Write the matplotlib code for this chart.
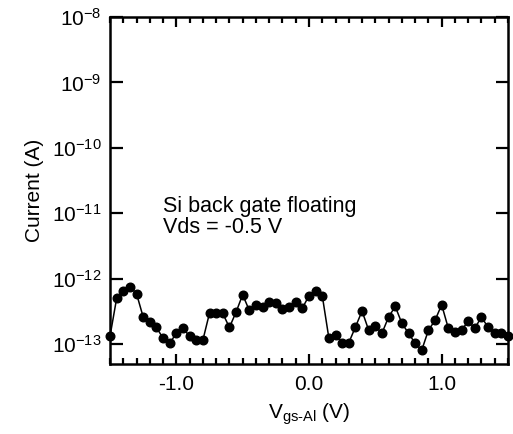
import numpy as np
import matplotlib
matplotlib.use("Agg")
import matplotlib.pyplot as plt
from matplotlib.ticker import MultipleLocator, FixedLocator, NullLocator

plt.rcParams['font.family'] = ['Liberation Sans', 'DejaVu Sans']
plt.rcParams['mathtext.fontset'] = 'custom'
plt.rcParams['mathtext.rm'] = 'Liberation Sans'
plt.rcParams['mathtext.it'] = 'Liberation Sans:italic'
plt.rcParams['mathtext.bf'] = 'Liberation Sans:bold'

vgs = [-1.50, -1.45, -1.40, -1.35, -1.30, -1.25, -1.20, -1.15, -1.10, -1.05,
       -1.00, -0.95, -0.90, -0.85, -0.80, -0.75, -0.70, -0.65, -0.60, -0.55,
       -0.50, -0.45, -0.40, -0.35, -0.30, -0.25, -0.20, -0.15, -0.10, -0.05,
       0.00, 0.05, 0.10, 0.15, 0.20, 0.25, 0.30, 0.35, 0.40, 0.45,
       0.50, 0.55, 0.60, 0.65, 0.70, 0.75, 0.80, 0.85, 0.90, 0.95,
       1.00, 1.05, 1.10, 1.15, 1.20, 1.25, 1.30, 1.35, 1.40, 1.45, 1.50]
current = [1.32e-13, 5.0e-13, 6.4e-13, 7.6e-13, 5.9e-13, 2.6e-13, 2.15e-13, 1.8e-13, 1.23e-13, 1.03e-13,
           1.47e-13, 1.75e-13, 1.32e-13, 1.15e-13, 1.15e-13, 2.98e-13, 2.98e-13, 2.95e-13, 1.8e-13, 3.08e-13,
           5.7e-13, 3.27e-13, 4.0e-13, 3.67e-13, 4.37e-13, 4.18e-13, 3.5e-13, 3.67e-13, 4.37e-13, 3.55e-13,
           5.5e-13, 6.6e-13, 5.5e-13, 1.23e-13, 1.37e-13, 1.05e-13, 1.05e-13, 1.83e-13, 3.2e-13, 1.63e-13,
           1.87e-13, 1.47e-13, 2.6e-13, 3.77e-13, 2.08e-13, 1.47e-13, 1.03e-13, 8.1e-14, 1.63e-13, 2.31e-13,
           4.0e-13, 1.75e-13, 1.53e-13, 1.63e-13, 2.25e-13, 1.75e-13, 2.6e-13, 1.8e-13, 1.47e-13, 1.47e-13, 1.32e-13]

xticks = [-1.0, 0.0, 1.0]
xticklabels = ["-1.0", "0.0", "1.0"]
yticks = [1e-13, 1e-12, 1e-11, 1e-10, 1e-9, 1e-8]
yticklabels = [r"10$^{-13}$", r"10$^{-12}$", r"10$^{-11}$", r"10$^{-10}$", r"10$^{-9}$", r"10$^{-8}$"]
annotation_lines = ["Si back gate floating", "Vds = -0.5 V"]

fs = 15

fig = plt.figure(figsize=(5.13, 4.34), dpi=100)
ax = fig.add_axes([110/513, 70/434, 398/513, 347/434])

ax.plot(vgs, current, '-', color='black', lw=1.1, marker='o', ms=6.2,
        mfc='black', mec='black', clip_on=False, zorder=3)

ax.set_yscale('log')
ax.set_xlim(-1.5, 1.5)
ax.set_ylim(4.97e-14, 1e-8)

ax.xaxis.set_major_locator(FixedLocator(xticks))
ax.set_xticklabels(xticklabels)
ax.xaxis.set_minor_locator(MultipleLocator(0.1))
ax.yaxis.set_major_locator(FixedLocator(yticks))
ax.set_yticklabels(yticklabels)
ax.yaxis.set_minor_locator(NullLocator())

for s in ax.spines.values():
    s.set_linewidth(1.8)

ax.tick_params(axis='x', which='major', direction='in', length=7, width=1.6,
               top=True, bottom=True, labelsize=fs, pad=8)
ax.tick_params(axis='x', which='minor', direction='in', length=4.5, width=1.6,
               top=True, bottom=True)
ax.tick_params(axis='y', which='major', direction='in', length=9, width=1.6,
               left=True, right=True, labelsize=fs, pad=6)

ax.set_xlabel(r"V$_{\mathrm{gs\text{-}Al}}$ (V)", fontsize=fs, labelpad=5)
ax.set_ylabel("Current (A)", fontsize=fs, labelpad=6)

fig.text(163/513, (434-212.5)/434, annotation_lines[0], fontsize=15.5, va='baseline', ha='left')
fig.text(163/513, (434-233)/434, annotation_lines[1], fontsize=15.5, va='baseline', ha='left')

fig.savefig("out.png", dpi=100)
